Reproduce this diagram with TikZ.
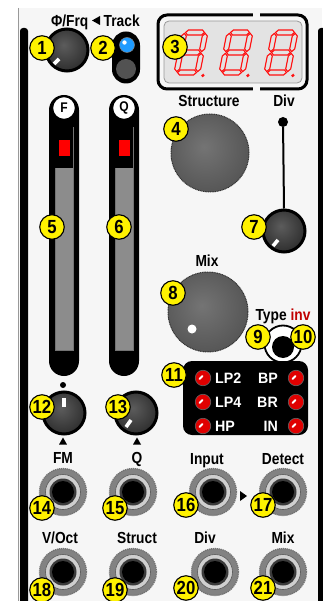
\documentclass[tikz,border=0pt]{standalone}
\usepackage{fontspec}
\newfontfamily\lblfam{Liberation Sans}[FakeStretch=0.86]
\newfontfamily\numfam{Liberation Sans}[FakeStretch=0.88]
\newfontfamily\ledfam{Liberation Sans}[FakeStretch=0.95]
\usetikzlibrary{calc}
\definecolor{badgey}{HTML}{FFF200}
\definecolor{panelbg}{HTML}{F6F6F6}
\definecolor{dispbg}{HTML}{E3E3E3}
\definecolor{dispred}{HTML}{FF1010}
\definecolor{jackgrey}{HTML}{828282}
\definecolor{jacklight}{HTML}{CFCFCF}
\definecolor{jackinner}{HTML}{3A3A3A}
\definecolor{ledred}{HTML}{E00000}
\definecolor{ledblue}{HTML}{1E9BFF}
\definecolor{invred}{HTML}{C00000}
\definecolor{trackgrey}{HTML}{8C8C8C}
\definecolor{kSin}{HTML}{5C5C5C}
\definecolor{kSout}{HTML}{2C2C2C}
\definecolor{kLin}{HTML}{747474}
\definecolor{kLout}{HTML}{3C3C3C}
\pgfdeclareradialshading{knobS}{\pgfpoint{-4bp}{6bp}}{color(0bp)=(kSin); color(30bp)=(kSout); color(60bp)=(kSout)}
\pgfdeclareradialshading{knobL}{\pgfpoint{-4bp}{4bp}}{color(0bp)=(kLin); color(52bp)=(kLout); color(60bp)=(kLout)}
\newcommand\lblfont{\lblfam\bfseries\fontsize{16}{16}\selectfont}
\newcommand\ledfont{\ledfam\bfseries\fontsize{15}{15}\selectfont}
\newcommand\badgefont{\numfam\bfseries\fontsize{19}{19}\selectfont}
\newcommand\hsegm[3]{\draw[segstyle] (#1,#3) -- (#1+2.5,#3+2.5) -- (#2-2.5,#3+2.5) -- (#2,#3) -- (#2-2.5,#3-2.5) -- (#1+2.5,#3-2.5) -- cycle;}
\newcommand\vsegm[3]{\draw[segstyle] (#1,#2) -- (#1+2.5,#2+2.5) -- (#1+2.5,#3-2.5) -- (#1,#3) -- (#1-2.5,#3-2.5) -- (#1-2.5,#2+2.5) -- cycle;}
\newcommand\sevdigit[2]{\begin{scope}[shift={(#1,#2)}, x=1pt, y=1pt, xslant=0.2]
 \hsegm{1}{20}{0} \hsegm{1}{20}{20} \hsegm{1}{20}{40}
 \vsegm{0}{1}{19} \vsegm{0}{21}{39} \vsegm{21}{1}{19} \vsegm{21}{21}{39}
 \fill[dispred] (27,-3) circle (1.8pt);
\end{scope}}
\newcommand\jackrings[1]{%
 \fill[jacklight] (#1) circle (17.5pt);
 \draw[black!65, line width=0.6pt] (#1) circle (17.5pt);
 \fill[jackinner] (#1) circle (13.5pt);
 \fill[black] (#1) circle (11pt);}
\begin{document}
\begin{tikzpicture}[x=1pt, y=-1pt,
  badge/.style={circle, fill=badgey, draw=black, line width=1.1pt, minimum size=24.5pt, inner sep=0pt, font=\badgefont},
  lbl/.style={inner sep=0pt, font=\lblfont},
  ledtxt/.style={inner sep=0pt, font=\ledfont, text=white},
  smallknob/.style={circle, draw=black, line width=3pt, inner sep=0pt, shade, shading=knobS, minimum size=41pt},
  bigknob/.style={circle, draw=black!80, line width=1pt, dash pattern=on 1pt off 0.7pt, inner sep=0pt, shade, shading=knobL},
  ind/.style={white, line width=3.6pt},
  segstyle/.style={draw=dispred, line width=1.1pt},
  jack/.style={circle, fill=jackgrey, draw=black!55, line width=1.3pt, dash pattern=on 1.2pt off 0.8pt, minimum size=47pt, inner sep=0pt},
  led/.style={circle, fill=ledred, draw=black!60, line width=0.6pt, minimum size=15.5pt, inner sep=0pt},
  hl/.style={white, line width=2pt, line cap=round},
  slidercap/.style={fill=black, rounded corners=15pt, minimum width=30pt, minimum height=281pt, inner sep=0pt},
  slidertop/.style={circle, fill=white, draw=black, line width=1.3pt, minimum size=23pt, inner sep=0pt, font=\lblfam\bfseries\fontsize{14}{14}\selectfont}
]
\useasboundingbox (0,0) rectangle (322,601);
\fill[white] (0,0) rectangle (322,601);
\fill[panelbg] (18,8) rectangle (322,601);
\draw[black!40, line width=0.8pt] (18,8) -- (18,601);
\fill[black, rounded corners=3pt] (20,612) -- (20,28) -- (28,28) -- (28,612) -- cycle;
\fill[black, rounded corners=3pt] (318,612) -- (318,28) -- (330,28) -- (330,612) -- cycle;

% header
\node[lbl, anchor=base east] (hfrq) at (88.5,27) {Φ/Frq};
\node[lbl, anchor=base west] (htrack) at (103.5,27) {Track};
\fill (92,20.5) -- (100,16) -- (100,25) -- cycle;

% knob 1
\node[smallknob, minimum size=42pt] (k1) at (67,50) {};
\draw[ind] ($(k1)+(-8,9)$) -- ($(k1)+(-13,14)$);

% track button
\node[fill=black, rounded corners=14pt, minimum width=28pt, minimum height=52pt, inner sep=0pt] (trk) at (126,57.5) {};
\node[circle, fill=ledblue, draw=black!50, line width=0.5pt, minimum size=15pt, inner sep=0pt] (led2) at (127,45) {};
\fill[white] ($(led2)+(-2.5,-2.5)$) circle (2.2pt);
\node[circle, fill=black!68, minimum size=20pt, inner sep=0pt] (btn2) at (126,69) {};

% display
\draw[black, line width=3pt, rounded corners=9pt] (158,15) rectangle (307,89);
\fill[panelbg] (253,12) rectangle (260,18);
\fill[panelbg] (253,86) rectangle (260,92);
\draw[fill=dispbg, draw=black!40, line width=0.8pt, rounded corners=5pt] (164,21) rectangle (302,83);
\sevdigit{176.5}{72.5}
\sevdigit{221.5}{72.5}
\sevdigit{266.5}{72.5}

% structure / div
\node[lbl, anchor=base] (lstruct) at (209,107) {Structure};
\node[lbl, anchor=base] (ldiv) at (284,107) {Div};
\node[bigknob, minimum size=78pt] (k4) at (210,153) {};
\node[circle, fill=black, minimum size=10pt, inner sep=0pt] (ddot) at (283,122) {};
\node[smallknob, minimum size=42pt] (k7) at (284,231) {};
\draw[black, line width=2pt] (ddot) -- (k7.north);
\draw[ind] ($(k7)+(-6,9)$) -- ($(k7)+(-11,15)$);

% sliders
\node[slidercap] (sF) at (64,235.5) {};
\fill[trackgrey] (55,127) rectangle (73,350);
\draw[black!55, line width=0.6pt] (55,127) rectangle (73,350);
\fill[black] (55,127) rectangle (73,168);
\fill[red] (58.5,140) rectangle (69.5,156);
\node[slidertop] (tF) at (64,108) {F};

\node[slidercap] (sQ) at (124,235.5) {};
\fill[trackgrey] (115,127) rectangle (133,350);
\draw[black!55, line width=0.6pt] (115,127) rectangle (133,350);
\fill[black] (115,127) rectangle (133,168);
\fill[red] (118.5,140) rectangle (129.5,156);
\node[slidertop] (tQ) at (124,108) {Q};

% mix knob
\node[lbl, anchor=base] (lmix) at (207,266) {Mix};
\node[bigknob, minimum size=80pt] (k8) at (208,312) {};
\fill[white] ($(k8)+(-16,17)$) circle (4.5pt);

% type / inv
\node[lbl, anchor=base] (ltype) at (283,320) {Type {\color{invred}inv}};
\node[circle, fill=white, draw=black, line width=1.8pt, minimum size=37pt, inner sep=0pt] (ring) at (283,344) {};
\node[circle, fill=black, minimum size=22pt, inner sep=0pt] (btn9) at (283,347) {};

% LED panel
\node[fill=black, rounded corners=9pt, minimum width=125pt, minimum height=74pt, inner sep=0pt] (ledp) at (245.5,398) {};
\node[led] (l1) at (203,378) {};
\node[led] (l2) at (203,402) {};
\node[led] (l3) at (203,426) {};
\node[led] (l4) at (296,378) {};
\node[led] (l5) at (296,402) {};
\node[led] (l6) at (296,426) {};
\foreach \n in {l1,l2,l3,l4,l5,l6}{\draw[hl] ($(\n)+(-3.5,1)$) -- ($(\n)+(-0.5,-2)$);}
\node[ledtxt, anchor=base west] (tlp2) at (215,383.5) {LP2};
\node[ledtxt, anchor=base west] (tlp4) at (215,407.5) {LP4};
\node[ledtxt, anchor=base west] (thp) at (215,431.5) {HP};
\node[ledtxt, anchor=base east] (tbp) at (278,383.5) {BP};
\node[ledtxt, anchor=base east] (tbr) at (278,407.5) {BR};
\node[ledtxt, anchor=base east] (tin) at (278,431.5) {IN};

% knobs 12, 13
\node[circle, fill=black, minimum size=6pt, inner sep=0pt] (fdot) at (63,385) {};
\node[smallknob, minimum size=42pt] (k12) at (64,413) {};
\draw[ind] ($(k12)+(0,-6)$) -- ($(k12)+(0,-15)$);
\node[smallknob, minimum size=42pt] (k13) at (136,413) {};
\draw[ind] ($(k13)+(-5,7)$) -- ($(k13)+(-10,14)$);
\fill (59,444.5) -- (67,444.5) -- (63,437.5) -- cycle;
\fill (133,444.5) -- (141,444.5) -- (137,437.5) -- cycle;

% jack labels
\node[lbl, anchor=base] (lfm) at (63,463.5) {FM};
\node[lbl, anchor=base] (lq) at (137,463.5) {Q};
\node[lbl, anchor=base] (linput) at (207,464) {Input};
\node[lbl, anchor=base] (ldetect) at (283,464) {Detect};
\node[lbl, anchor=base] (lvoct) at (60,543) {V/Oct};
\node[lbl, anchor=base] (lstr) at (137,543) {Struct};
\node[lbl, anchor=base] (ldiv2) at (205,543) {Div};
\node[lbl, anchor=base] (lmix2) at (283,543) {Mix};

% jacks
\node[jack] (j14) at (63,492) {}; \jackrings{j14}
\node[jack] (j15) at (133,492) {}; \jackrings{j15}
\node[jack] (j16) at (213,492) {}; \jackrings{j16}
\node[jack] (j17) at (283,492) {}; \jackrings{j17}
\node[jack] (j18) at (63,572) {}; \jackrings{j18}
\node[jack] (j19) at (133,572) {}; \jackrings{j19}
\node[jack] (j20) at (215,572) {}; \jackrings{j20}
\node[jack] (j21) at (283,572) {}; \jackrings{j21}
\fill (240,491) -- (247,496) -- (240,501) -- cycle;

% badges
\node[badge] (b1) at (42,48) {1};
\node[badge] (b2) at (103,48) {2};
\node[badge] (b3) at (175,47) {3};
\node[badge] (b4) at (176,129) {4};
\node[badge] (b5) at (52,227) {5};
\node[badge] (b6) at (119,227) {6};
\node[badge] (b7) at (254,227) {7};
\node[badge] (b8) at (173,293) {8};
\node[badge] (b9) at (258,337) {9};
\node[badge] (b10) at (303,337) {10};
\node[badge] (b11) at (174,375) {11};
\node[badge] (b12) at (42,407) {12};
\node[badge] (b13) at (118,407) {13};
\node[badge] (b14) at (42,508) {14};
\node[badge] (b15) at (115,508) {15};
\node[badge] (b16) at (186,505) {16};
\node[badge] (b17) at (263,505) {17};
\node[badge] (b18) at (42,590) {18};
\node[badge] (b19) at (115,590) {19};
\node[badge] (b20) at (186,588) {20};
\node[badge] (b21) at (263,588) {21};
\end{tikzpicture}
\end{document}
